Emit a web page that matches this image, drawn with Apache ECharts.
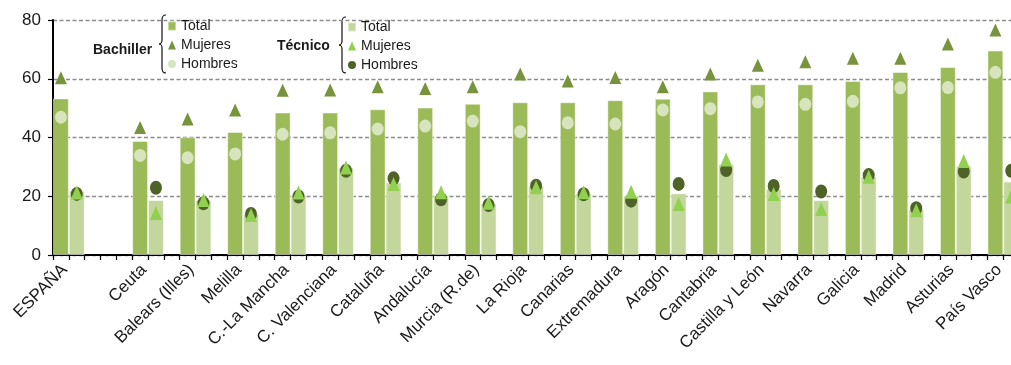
<!DOCTYPE html>
<html>
<head>
<meta charset="utf-8">
<script src="https://cdn.jsdelivr.net/npm/echarts@6/dist/echarts.min.js"></script>
<style>
  html, body { margin: 0; padding: 0; background: #fff; }
  #chart { width: 1011px; height: 365px; }
</style>
</head>
<body>
<div id="chart"></div>
<script>
const regions = ['ESPAÑA', 'Ceuta', 'Balears (Illes)', 'Melilla', 'C.-La Mancha', 'C. Valenciana', 'Cataluña',
  'Andalucía', 'Murcia (R.de)', 'La Rioja', 'Canarias', 'Extremadura', 'Aragón', 'Cantabria',
  'Castilla y León', 'Navarra', 'Galicia', 'Madrid', 'Asturias', 'País Vasco'];

const bachTotal = [53.3, 38.8, 40.1, 41.9, 48.5, 48.5, 49.6, 50.2, 51.5, 52.0, 52.0, 52.7, 53.2, 55.7, 58.1, 58.1, 59.2, 62.3, 64.0, 69.6];
const bachMujeres = [60.3, 43.4, 46.3, 49.4, 56.1, 56.2, 57.3, 56.7, 57.3, 61.6, 59.2, 60.4, 57.3, 61.6, 64.6, 65.8, 67.0, 67.0, 71.8, 76.6];
const bachHombres = [46.9, 33.9, 33.1, 34.4, 41.1, 41.6, 42.9, 43.9, 45.6, 42.0, 45.0, 44.6, 49.4, 49.8, 52.1, 51.3, 52.3, 56.9, 57.0, 62.2];

const tecTotal = [21.8, 18.7, 18.7, 14.0, 20.4, 29.7, 24.7, 20.3, 17.6, 23.6, 21.0, 20.2, 21.0, 30.9, 22.5, 18.7, 26.7, 15.7, 30.3, 25.0];
const tecMujeres = [21.3, 14.3, 18.7, 13.6, 21.3, 29.8, 24.2, 21.4, 17.8, 23.1, 21.4, 21.5, 17.4, 32.5, 20.8, 15.7, 26.6, 15.2, 32.0, 19.9];
const tecHombres = [20.8, 22.9, 17.6, 14.0, 19.9, 28.7, 26.1, 19.0, 17.0, 23.6, 20.7, 18.5, 24.2, 28.9, 23.5, 21.6, 27.2, 15.9, 28.4, 28.7];

// every region uses 3 slots (bachiller bar, técnico bar, gap); ESPAÑA gets a wider gap after it
const slotOf = regions.map((r, i) => i === 0 ? 0 : 5 + 3 * (i - 1));
const slotCount = slotOf[slotOf.length - 1] + 3;

function toSlots (values, offset) {
  let arr = new Array(slotCount).fill('-');
  values.forEach((v, i) => { arr[slotOf[i] + offset] = v; });
  return arr;
}

let slotNames = new Array(slotCount).fill('');
let boundaryLabels = new Array(slotCount + 1).fill('');
regions.forEach((r, i) => { boundaryLabels[slotOf[i] + 1] = r; });

const font = 'Liberation Sans';
const textColor = '#1a1a1a';

// curly brace drawn from curves and lines
function brace (x, y, h) {
  let m = y + h / 2;
  let st = { stroke: '#111', lineWidth: 1.2, fill: 'none' };
  return [
    { type: 'bezierCurve', shape: { x1: x + 7, y1: y, cpx1: x + 4, cpy1: y, cpx2: x + 3, cpy2: y + 1, x2: x + 3, y2: y + 5 }, style: st },
    { type: 'line', shape: { x1: x + 3, y1: y + 5, x2: x + 3, y2: m - 4 }, style: st },
    { type: 'bezierCurve', shape: { x1: x + 3, y1: m - 4, cpx1: x + 3, cpy1: m - 1, cpx2: x + 1, cpy2: m, x2: x, y2: m }, style: st },
    { type: 'bezierCurve', shape: { x1: x, y1: m, cpx1: x + 1, cpy1: m, cpx2: x + 3, cpy2: m + 1, x2: x + 3, y2: m + 4 }, style: st },
    { type: 'line', shape: { x1: x + 3, y1: m + 4, x2: x + 3, y2: y + h - 5 }, style: st },
    { type: 'bezierCurve', shape: { x1: x + 3, y1: y + h - 5, cpx1: x + 3, cpy1: y + h - 1, cpx2: x + 4, cpy2: y + h, x2: x + 7, y2: y + h }, style: st }
  ];
}

let myChart = echarts.init(document.getElementById('chart'));

let legendBase = {
  orient: 'vertical',
  itemWidth: 8,
  itemHeight: 9,
  itemGap: 5,
  selectedMode: false,
  formatter: function (name) {
    return name.split(' ')[1];
  },
  textStyle: { fontFamily: font, fontSize: 14, color: textColor }
};

myChart.setOption({
  animation: false,
  textStyle: { fontFamily: font },
  grid: { left: 53, top: 20, width: 982, height: 235, outerBoundsMode: 'none' },
  legend: [
    Object.assign({}, legendBase, {
      left: 162,
      top: 14,
      data: [{ name: 'Bachiller Total', icon: 'rect' }, 'Bachiller Mujeres', 'Bachiller Hombres']
    }),
    Object.assign({}, legendBase, {
      left: 342,
      top: 15,
      data: [{ name: 'Técnico Total', icon: 'rect' }, 'Técnico Mujeres', 'Técnico Hombres']
    })
  ],
  graphic: [
    { type: 'text', left: 93, top: 43, style: { text: 'Bachiller', fontFamily: font, fontSize: 14, fontWeight: 'bold', fill: textColor } },
    { type: 'text', left: 277, top: 39, style: { text: 'Técnico', fontFamily: font, fontSize: 14, fontWeight: 'bold', fill: textColor } }
  ].concat(brace(159, 15, 58), brace(339, 17, 56)),
  xAxis: [
    {
      type: 'category',
      data: slotNames,
      axisLine: { lineStyle: { color: '#000', width: 2 } },
      axisTick: { show: true, interval: 0, length: 5, lineStyle: { color: '#000', width: 1.2 } },
      axisLabel: { show: false }
    },
    {
      type: 'category',
      position: 'bottom',
      boundaryGap: false,
      data: boundaryLabels,
      axisLine: { show: false },
      axisTick: { show: false },
      axisLabel: { interval: 0, rotate: 45, margin: 8, padding: [0, 6, 0, 0], fontSize: 17, fontFamily: font, color: textColor }
    }
  ],
  yAxis: {
    type: 'value',
    min: 0,
    max: 80,
    interval: 20,
    axisLine: { show: true, lineStyle: { color: '#000', width: 2 } },
    axisTick: { show: true, length: 5, lineStyle: { color: '#000', width: 1.2 } },
    axisLabel: { fontSize: 17, fontFamily: font, color: textColor, margin: 12 },
    splitLine: { lineStyle: { color: '#8c8c8c', width: 1.4, type: [4, 2.5] } }
  },
  series: [
    {
      name: 'Bachiller Total',
      type: 'bar',
      barWidth: '100%',
      barGap: '-100%',
      data: toSlots(bachTotal, 0),
      itemStyle: { color: '#9bbb59', borderColor: 'rgba(255,255,255,0.45)', borderWidth: 1 }
    },
    {
      name: 'Técnico Total',
      type: 'bar',
      barWidth: '100%',
      barGap: '-100%',
      data: toSlots(tecTotal, 1),
      itemStyle: { color: '#c3d69b', borderColor: 'rgba(255,255,255,0.45)', borderWidth: 1 }
    },
    {
      name: 'Bachiller Hombres',
      type: 'scatter',
      symbol: 'circle',
      symbolSize: [12, 13],
      data: toSlots(bachHombres, 0),
      itemStyle: { color: '#d7e4bd', opacity: 1 }
    },
    {
      name: 'Bachiller Mujeres',
      type: 'scatter',
      symbol: 'triangle',
      symbolSize: [12, 13],
      data: toSlots(bachMujeres, 0),
      itemStyle: { color: '#77933c', opacity: 1 }
    },
    {
      name: 'Técnico Hombres',
      type: 'scatter',
      symbol: 'circle',
      symbolSize: [12, 14],
      data: toSlots(tecHombres, 1),
      itemStyle: { color: '#4f6228', opacity: 1 }
    },
    {
      name: 'Técnico Mujeres',
      type: 'scatter',
      symbol: 'triangle',
      symbolSize: [12, 14],
      data: toSlots(tecMujeres, 1),
      itemStyle: { color: '#92d050', opacity: 1 }
    }
  ]
});
</script>
</body>
</html>
